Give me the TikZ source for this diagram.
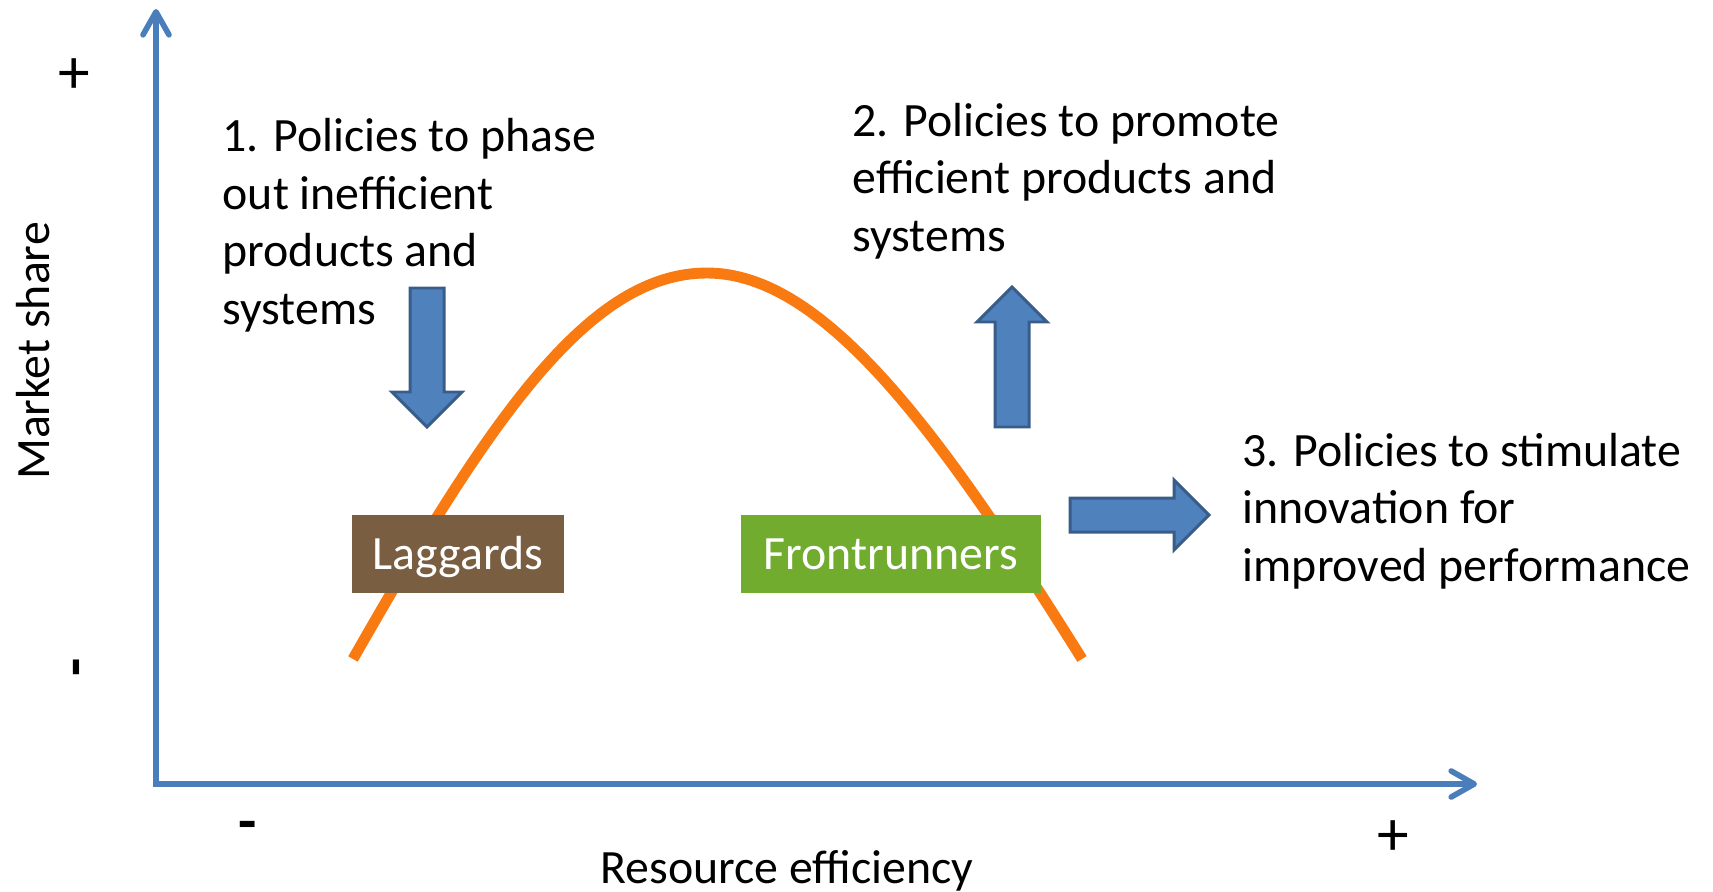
\documentclass[tikz,border=0pt]{standalone}
\usepackage{fontspec}
\setmainfont{Carlito}
\usetikzlibrary{arrows.meta}

\definecolor{axisblue}{HTML}{4A7EBB}
\definecolor{curveorange}{HTML}{FA7A12}
\definecolor{lagbrown}{HTML}{7A5E41}
\definecolor{frontgreen}{HTML}{72AC2F}
\definecolor{blockfill}{HTML}{4F81BD}
\definecolor{blockedge}{HTML}{385D8A}

\begin{document}
\begin{tikzpicture}[x=0.01cm,y=-0.01cm,>={Straight Barb[length=2.3mm,width=2.6mm,round]},
	every node/.style={font=\fontsize{13.6}{16.35}\selectfont},
	axis/.style={draw=axisblue,line width=1.6pt},
	curve/.style={draw=curveorange,line width=3.1pt},
	group/.style={rectangle,inner sep=0pt,minimum height=0.77cm,text height=0.4cm,text depth=0.1cm,text=white},
	policy/.style={anchor=base west,align=left,inner sep=0pt},
	plussign/.style={font=\fontsize{18}{20}\selectfont},
	minussign/.style={font=\fontsize{17}{20}\selectfont\bfseries},
	blockarrow/.style={fill=blockfill,draw=blockedge,line width=0.85pt}]

\useasboundingbox (0,0) rectangle (1713,891);

\coordinate (origin) at (156,784);
	\coordinate (ytip) at (156,9);
\coordinate (xtip) at (1477,784);

\draw[axis,<->] (ytip) -- (origin) -- (xtip);

\node[plussign]   (yplus)      at (74,76)  	{+};
\node[minussign,rotate=90]   (yminus)  at (83,667)  	{-};
	\node[rotate=90]   (ylabel) at (33,351)      {Market share};
\node[minussign]   (xminus)   at (248,831)   {-};
\node[plussign]   (xplus)   at (1393,838)   {+};
	\node   (xlabel) at (787,871)      {Resource efficiency};

\draw[curve] (353,659) .. controls (492,415) and (590,273) .. (707,273)
				.. controls (824,273) and (940,432) .. (1082,659);

\node[group,fill=lagbrown,minimum width=2.12cm]   (laggards)      at (458,554)  	{Laggards};
\node[group,fill=frontgreen,minimum width=3cm]   (frontrunners)  at (891,554)  	{Frontrunners};

\node[policy]   (phaseout) at (222,324)  {1. Policies to phase\\out inefficient\\products and\\systems};
	\node[policy]   (promote) at (852,251)  {2. Policies to promote\\efficient products and\\systems};
\node[policy]   (innovate) at (1242,581)  {3. Policies to stimulate\\innovation for\\improved performance};

\draw[blockarrow] (410,288) -- (444,288) -- (444,392) -- (462,392) -- (427,427)
		-- (392,392) -- (410,392) -- cycle;
\draw[blockarrow] (995,427) -- (1029,427) -- (1029,322) -- (1047,322) -- (1012,287)
		-- (977,322) -- (995,322) -- cycle;
\draw[blockarrow] (1070,498) -- (1174,498) -- (1174,480) -- (1209,515) -- (1174,550)
		-- (1174,532) -- (1070,532) -- cycle;

		\end{tikzpicture}
\end{document}
